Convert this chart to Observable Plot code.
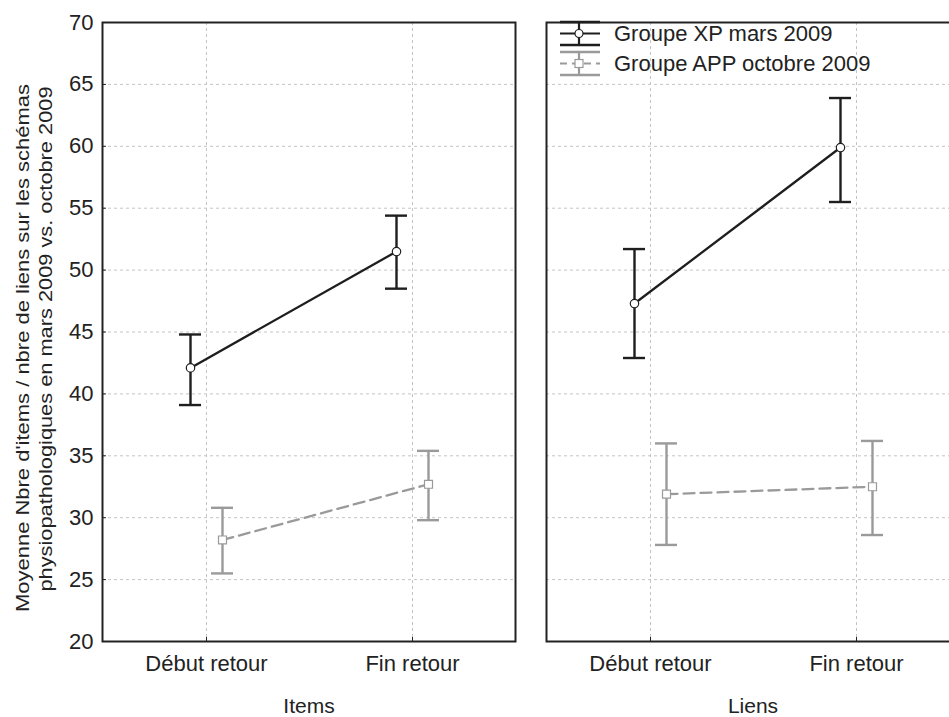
<!DOCTYPE html>
<html>
<head>
<meta charset="utf-8">
<script src="https://cdn.jsdelivr.net/npm/d3@7"></script>
<script src="https://cdn.jsdelivr.net/npm/@observablehq/plot@0.6"></script>
<style>
  html, body { margin: 0; padding: 0; background: #fff; overflow: hidden; }
  #wrap { position: relative; width: 949px; height: 717px; overflow: hidden; background: #fff; }
  #wrap svg { position: absolute; top: 0; max-width: none !important; }
  .ov { left: 0; pointer-events: none; }
</style>
</head>
<body>
<div id="wrap"></div>
<script>
// ---- data ----
const panels = ["Items", "Liens"];
const categories = ["Début retour", "Fin retour"];
const groups = ["Groupe XP mars 2009", "Groupe APP octobre 2009"];
const yTicks = [20, 25, 30, 35, 40, 45, 50, 55, 60, 65, 70];
const yTitle = ["Moyenne Nbre d'items / nbre de liens sur les schémas",
                "physiopathologiques en mars 2009 vs. octobre 2009"];

// order: Items/Début, Items/Fin, Liens/Début, Liens/Fin
const xpMean  = [42.1, 51.5, 47.3, 59.9];
const xpLow   = [39.1, 48.5, 42.9, 55.5];
const xpHigh  = [44.8, 54.4, 51.7, 63.9];
const appMean = [28.2, 32.7, 31.9, 32.5];
const appLow  = [25.5, 29.8, 27.8, 28.6];
const appHigh = [30.8, 35.4, 36.0, 36.2];

function rows(panelIndex, mean, low, high) {
  return categories.map((c, j) => {
    const k = panelIndex * 2 + j;
    return {cat: c, mean: mean[k], low: low[k], high: high[k]};
  });
}

const XPC = "#1e1e1e", APPC = "#9a9a9a", GRID = "#c4c4c4";
const OFF = 16;
const FONT = "'Liberation Sans', Arial, sans-serif";

function series(data, color, dx, dash, symbol, r) {
  return [
    Plot.line(data, {x: "cat", y: "mean", dx, stroke: color, strokeWidth: 2.3, strokeDasharray: dash}),
    Plot.ruleX(data, {x: "cat", y1: "low", y2: "high", dx, stroke: color, strokeWidth: 2.4}),
    Plot.ruleY(data, {x1: "cat", x2: "cat", y: "low", dx, insetLeft: -11, insetRight: -11, stroke: color, strokeWidth: 2.4}),
    Plot.ruleY(data, {x1: "cat", x2: "cat", y: "high", dx, insetLeft: -11, insetRight: -11, stroke: color, strokeWidth: 2.4}),
    Plot.dot(data, {x: "cat", y: "mean", dx, symbol, r, fill: "white", stroke: color, strokeWidth: 1.2})
  ];
}

function panel(i, withYAxis) {
  const ml = withYAxis ? 102 : 5;
  return Plot.plot({
    width: ml + 413 + 5,
    height: 717,
    marginLeft: ml,
    marginRight: 5,
    marginTop: 22,
    marginBottom: 76,
    style: {fontFamily: FONT, fontSize: "22px", color: "#222", background: "transparent"},
    x: {type: "point", domain: categories, padding: 0.5, axis: null},
    y: {domain: [20, 70], axis: null},
    marks: [
      Plot.gridY(yTicks, {stroke: GRID, strokeOpacity: 1, strokeDasharray: "3,3"}),
      Plot.gridX(categories, {stroke: GRID, strokeOpacity: 1, strokeDasharray: "3,3"}),
      withYAxis ? Plot.axisY(yTicks, {anchor: "left", tickSize: -4, tickPadding: 13, label: null, stroke: "#222", fontSize: 22}) : null,
      Plot.axisX(categories, {anchor: "bottom", tickSize: -4, tickPadding: 18, label: null, stroke: "#222", fontSize: 22}),
      Plot.text([panels[i]], {text: d => d, frameAnchor: "bottom", dy: 71, fontSize: 21, fill: "#222"}),
      Plot.frame({stroke: "#222", strokeWidth: 2}),
      ...series(rows(i, appMean, appLow, appHigh), APPC, OFF, "11,6", "square", 4.5),
      ...series(rows(i, xpMean, xpLow, xpHigh), XPC, -OFF, null, "circle", 4.2)
    ]
  });
}

const wrap = document.getElementById("wrap");
const left = panel(0, true);
left.style.left = "0px";
wrap.appendChild(left);
const right = panel(1, false);
right.style.left = (546 - 5) + "px";
wrap.appendChild(right);

// ---- overlay: y title + legend ----
const NS = "http://www.w3.org/2000/svg";
const ov = document.createElementNS(NS, "svg");
ov.setAttribute("class", "ov");
ov.setAttribute("width", 949);
ov.setAttribute("height", 717);
wrap.appendChild(ov);
function el(tag, attrs, parent) {
  const e = document.createElementNS(NS, tag);
  for (const k in attrs) e.setAttribute(k, attrs[k]);
  (parent || ov).appendChild(e);
  return e;
}
const titleSpec = [{x: 22, cy: 348, len: 528}, {x: 45, cy: 339, len: 505}];
yTitle.forEach((t, i) => {
  const s = titleSpec[i];
  const tx = el("text", {
    transform: `translate(${s.x},${s.cy}) rotate(-90)`,
    "text-anchor": "middle", "dominant-baseline": "central",
    "font-family": "'Liberation Sans Narrow', 'Arial Narrow', 'Liberation Sans', sans-serif",
    "font-size": 19, fill: "#222",
    textLength: s.len, lengthAdjust: "spacingAndGlyphs"
  });
  tx.textContent = t;
});
const legend = [
  {label: groups[0], color: XPC, cy: 33.5, dash: null, sym: "circle"},
  {label: groups[1], color: APPC, cy: 63.5, dash: "7,5", sym: "square"}
];
legend.forEach(g => {
  const x0 = 560, x1 = 600, xc = 579;
  el("line", {x1: xc, x2: xc, y1: g.cy - 11.5, y2: g.cy + 11.5, stroke: g.color, "stroke-width": 2.2});
  el("line", {x1: x0, x2: x1, y1: g.cy - 11.5, y2: g.cy - 11.5, stroke: g.color, "stroke-width": 2.4});
  el("line", {x1: x0, x2: x1, y1: g.cy + 11.5, y2: g.cy + 11.5, stroke: g.color, "stroke-width": 2.4});
  const ln = el("line", {x1: x0, x2: x1, y1: g.cy, y2: g.cy, stroke: g.color, "stroke-width": 2});
  if (g.dash) ln.setAttribute("stroke-dasharray", g.dash);
  if (g.sym === "circle") el("circle", {cx: xc, cy: g.cy, r: 4, fill: "white", stroke: g.color, "stroke-width": 1.2});
  else el("rect", {x: xc - 4, y: g.cy - 4, width: 8, height: 8, fill: "white", stroke: g.color, "stroke-width": 1.2});
  const tx = el("text", {x: 614, y: g.cy, "dominant-baseline": "central",
    "font-family": FONT, "font-size": 22, fill: "#222"});
  tx.textContent = g.label;
});
</script>
</body>
</html>
